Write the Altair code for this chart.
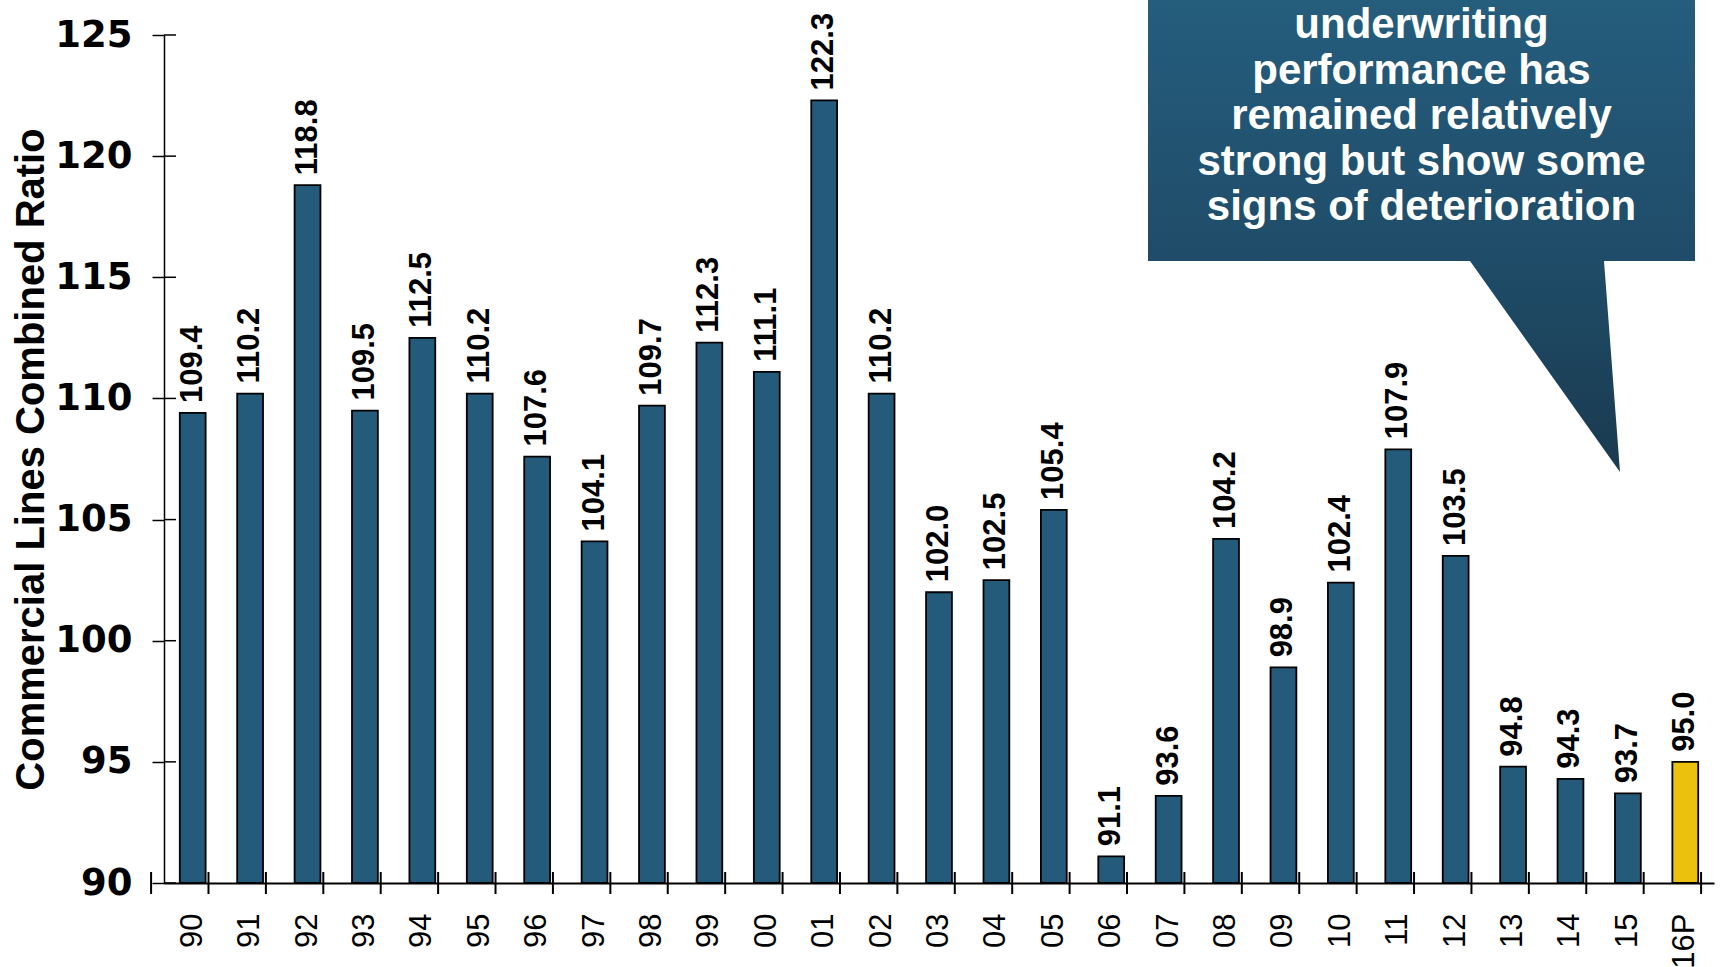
import altair as alt
import pandas as pd

years = ["90", "91", "92", "93", "94", "95", "96", "97", "98", "99", "00", "01", "02",
         "03", "04", "05", "06", "07", "08", "09", "10", "11", "12", "13", "14", "15", "16P"]
ratios = [109.4, 110.2, 118.8, 109.5, 112.5, 110.2, 107.6, 104.1, 109.7, 112.3, 111.1, 122.3, 110.2,
          102.0, 102.5, 105.4, 91.1, 93.6, 104.2, 98.9, 102.4, 107.9, 103.5, 94.8, 94.3, 93.7, 95.0]
y_ticks = [90, 95, 100, 105, 110, 115, 120, 125]
callout_lines = ["underwriting", "performance has", "remained relatively",
                 "strong but show some", "signs of deterioration"]

W, H = 1550, 848
STEP = W / len(years)

df = pd.DataFrame({"year": years, "value": ratios})
tick_df = pd.DataFrame({"value": y_ticks})

BLUE = "#245B7B"
YELLOW = "#EBC10E"

xscale = alt.Scale(domain=years, paddingInner=0.55, paddingOuter=0.275)
yscale = alt.Scale(domain=[90, 125], nice=False, zero=False)
YTITLE = "Commercial Lines Combined Ratio"

x_enc = alt.X("year:N", sort=years, scale=xscale,
              axis=alt.Axis(title=None, labelAngle=270, ticks=False, labelPadding=30,
                            labelFont="Liberation Sans", labelFontSize=31, labelColor="black",
                            domainColor="black", domainWidth=2))
y_enc = alt.Y("value:Q", scale=yscale, title=YTITLE,
              axis=alt.Axis(values=y_ticks, grid=False, tickSize=12, tickWidth=1.5, tickColor="black",
                            domainColor="black", domainWidth=1.5,
                            labelFont="DejaVu Sans", labelFontWeight="bold", labelFontSize=37,
                            labelColor="black", labelPadding=20,
                            titleFont="Liberation Sans", titleFontWeight="bold", titleFontSize=40,
                            titleColor="black", titlePadding=3))

bars = alt.Chart(df).mark_bar(stroke="black", strokeWidth=1.8).encode(
    x=x_enc, y=y_enc, y2=alt.datum(90),
    color=alt.condition(alt.datum.year == "16P", alt.value(YELLOW), alt.value(BLUE)),
)

labels = alt.Chart(df).mark_text(
    angle=270, align="left", baseline="middle", dx=10,
    font="Liberation Sans", fontWeight="bold", fontSize=31, color="black",
).encode(x=alt.X("year:N", sort=years, scale=xscale),
         y=alt.Y("value:Q", scale=yscale, title=YTITLE),
         text=alt.Text("value:Q", format=".1f"))

# x-axis ticks at band boundaries, crossing the axis line
xticks = alt.Chart(df).mark_rule(color="black", strokeWidth=2).encode(
    x=alt.X("year:N", sort=years, scale=xscale),
    xOffset=alt.value(-STEP / 2),
    y=alt.value(H - 11), y2=alt.value(H + 11),
)
xtick_last = alt.Chart(df).transform_filter(alt.datum.year == "16P").mark_rule(
    color="black", strokeWidth=2).encode(
    x=alt.X("year:N", sort=years, scale=xscale),
    xOffset=alt.value(STEP / 2),
    y=alt.value(H - 11), y2=alt.value(H + 11),
)

# inner half of the y-axis ticks
yticks_in = alt.Chart(tick_df).mark_rule(color="black", strokeWidth=1.5).encode(
    y=alt.Y("value:Q", scale=yscale, title=YTITLE),
    x=alt.value(0), x2=alt.value(12),
)

# callout (box + pointer) as a custom symbol path
callout_path = ("M -1 -0.86289 L 1 -0.86289 L 1 0.091408 L 0.66728 0.091408 "
                "L 0.72578 0.86289 L 0.17733 0.091408 L -1 0.091408 Z")
grad = alt.LinearGradient(
    gradient="linear", x1=0, x2=0, y1=0, y2=1,
    stops=[alt.GradientStop(color="#255D7D", offset=0),
           alt.GradientStop(color="#1F4C68", offset=0.55),
           alt.GradientStop(color="#1A3A4F", offset=1)],
)
callout = alt.Chart(pd.DataFrame({"k": [0]})).mark_point(
    shape=callout_path, size=547 ** 2, filled=True, fill=grad, opacity=1, strokeWidth=0,
).encode(x=alt.value(1257.5), y=alt.value(201))

callout_text = alt.Chart(pd.DataFrame({"k": [0]})).mark_text(
    text=callout_lines, align="center", baseline="alphabetic", lineHeight=45.5,
    font="Liberation Sans", fontWeight="bold", fontSize=42, color="white",
).encode(x=alt.value(1257.5), y=alt.value(3))

chart = alt.layer(bars, labels, xticks, xtick_last, yticks_in, callout, callout_text).properties(
    width=W, height=H,
    autosize=alt.AutoSizeParams(type="none"),
    padding={"left": 164, "top": 35, "right": 6, "bottom": 84},
).configure(background="white", view=alt.ViewConfig(stroke=None))

chart.save("out.html", embed_options={"renderer": "svg", "actions": False})
